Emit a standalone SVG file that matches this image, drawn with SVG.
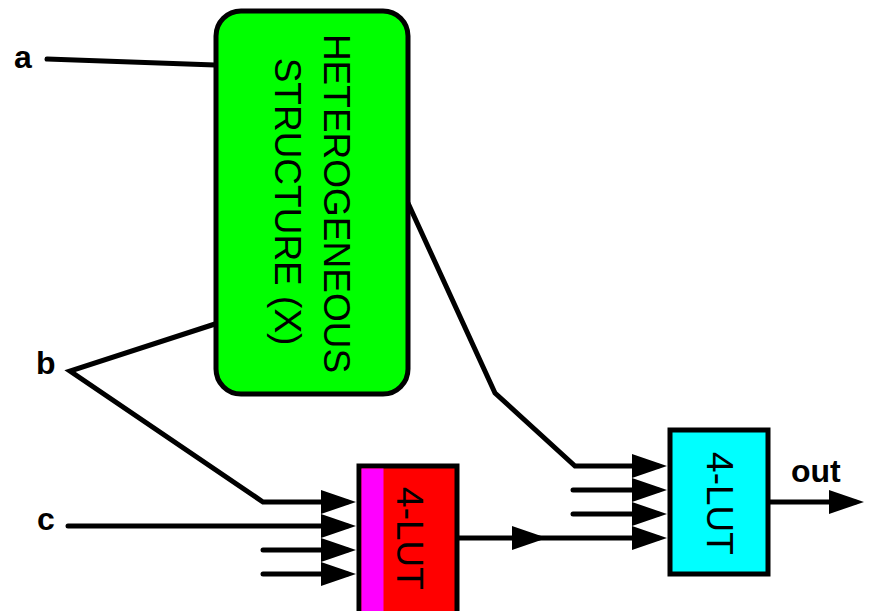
<svg xmlns="http://www.w3.org/2000/svg" width="873" height="611" viewBox="0 0 873 611">
<style>
.w{fill:none;stroke:#000;stroke-width:5;stroke-linecap:round;stroke-linejoin:miter}
.lbl{font-family:"Liberation Sans",Arial,sans-serif;font-weight:bold;font-size:32px;fill:#000}
.big{font-family:"Liberation Sans",Arial,sans-serif;font-size:37px;fill:#000;text-anchor:middle}
.box{stroke:#000;stroke-width:5}
</style>
<defs>
<marker id="ah" markerWidth="36" markerHeight="24" refX="26" refY="12" orient="auto" markerUnits="userSpaceOnUse">
<path d="M0,0 L35,12 L0,24 Z" fill="#000"/>
</marker>
</defs>
<g id="connectors">
<path class="w" d="M47,59 L215,65"/>
<path class="w" d="M215,324 L70,371 L263,502 L347,502" marker-end="url(#ah)"/>
<path class="w" d="M68,526 L347,526" marker-end="url(#ah)"/>
<path class="w" d="M263,550 L347,550" marker-end="url(#ah)"/>
<path class="w" d="M263,574 L347,574" marker-end="url(#ah)"/>
<path class="w" d="M408,203 L495,393 L575,466 L658,466" marker-end="url(#ah)"/>
<path class="w" d="M573,490 L658,490" marker-end="url(#ah)"/>
<path class="w" d="M573,514 L658,514" marker-end="url(#ah)"/>
<path class="w" d="M458,538 L538,538" marker-end="url(#ah)"/>
<path class="w" d="M536,538 L658,538" marker-end="url(#ah)"/>
<path class="w" d="M768,502 L855,502" marker-end="url(#ah)"/>
</g>
<g id="hetero">
<rect class="box" x="216" y="11" width="192" height="383" rx="25" fill="#00ff00"/>
<g transform="translate(337,203.5) rotate(90)"><text class="big" x="0" y="13">HETEROGENEOUS</text></g>
<g transform="translate(288,201.5) rotate(90)"><text class="big" x="0" y="13">STRUCTURE (X)</text></g>
</g>
<g id="lut1">
<rect class="box" x="359" y="466" width="98" height="160" fill="#ff0000"/>
<rect x="361.5" y="468.5" width="22" height="160" fill="#ff00ff"/>
<g transform="translate(410,538.5) rotate(90)"><text class="big" x="0" y="13">4-LUT</text></g>
</g>
<g id="lut2">
<rect class="box" x="670" y="430" width="98" height="144" fill="#00ffff"/>
<g transform="translate(720,503.5) rotate(90)"><text class="big" x="0" y="13">4-LUT</text></g>
</g>
<g id="in-a"><text class="lbl" x="14" y="68">a</text></g>
<g id="in-b"><text class="lbl" x="36" y="374">b</text></g>
<g id="in-c"><text class="lbl" x="37" y="530">c</text></g>
<g id="out"><text class="lbl" x="791" y="482">out</text></g>
</svg>
